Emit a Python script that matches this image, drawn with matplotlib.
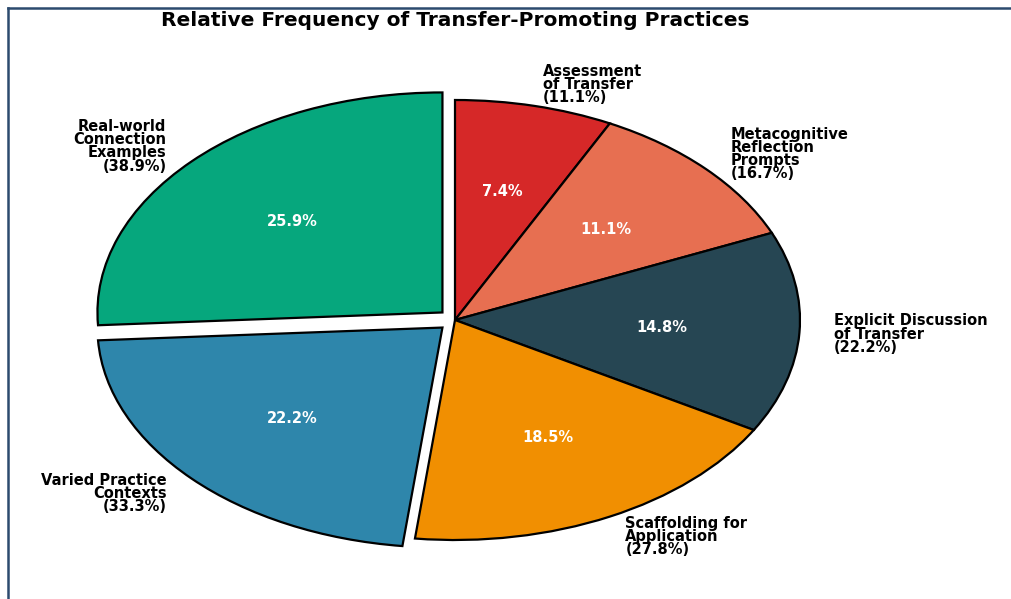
import matplotlib.pyplot as plt
from matplotlib.lines import Line2D

# Practice categories, in clockwise order from 12 o'clock
practices = [
    "Assessment\nof Transfer",
    "Metacognitive\nReflection\nPrompts",
    "Explicit Discussion\nof Transfer",
    "Scaffolding for\nApplication",
    "Varied Practice\nContexts",
    "Real-world\nConnection\nExamples",
]
counts = [2, 3, 4, 5, 6, 7]      # number of occurrences
n_sources = 18                   # sources reviewed (basis of label percentages)
explode = [0, 0, 0, 0, 0.05, 0.05]
colors = ["#D62828", "#E76F51", "#264653", "#F18F01", "#2E86AB", "#06A77D"]


def main():
    fig = plt.figure(figsize=(10.11, 5.99), dpi=100)
    ax = fig.add_axes([0, 0, 1, 1])

    labels = [f"{name}\n({c / n_sources * 100:.1f}%)" for name, c in zip(practices, counts)]

    wedges, texts, autotexts = ax.pie(
        counts,
        labels=labels,
        colors=colors,
        explode=explode,
        startangle=90,
        counterclock=False,
        autopct="%1.1f%%",
        pctdistance=0.6,
        labeldistance=1.1,
        wedgeprops=dict(edgecolor="black", linewidth=1.6),
        textprops=dict(fontsize=10.5, fontweight="bold", linespacing=0.85),
    )
    for t in autotexts:
        t.set_color("white")
        t.set_fontsize(10.5)
        t.set_fontweight("bold")

    # stretch the pie to fill the wide canvas
    ax.set_aspect("auto")
    rx, ry = 345.0, 220.0
    cx, cy = 455.0, 320.0
    ax.set_xlim(-cx / rx, (1011 - cx) / rx)
    ax.set_ylim(-(599 - cy) / ry, cy / ry)
    ax.axis("off")

    fig.text(455 / 1011, 1 - 21 / 599, "Relative Frequency of Transfer-Promoting Practices",
             ha="center", va="center", fontsize=14.5, fontweight="bold")

    # page border lines
    top = 1 - 8 / 599
    left = 8 / 1011
    fig.add_artist(Line2D([left, 1], [top, top], transform=fig.transFigure,
                          color="#2C4A6E", linewidth=1.8))
    fig.add_artist(Line2D([left, left], [0, top], transform=fig.transFigure,
                          color="#2C4A6E", linewidth=1.8))

    fig.savefig("out.png", dpi=100)


if __name__ == "__main__":
    main()
